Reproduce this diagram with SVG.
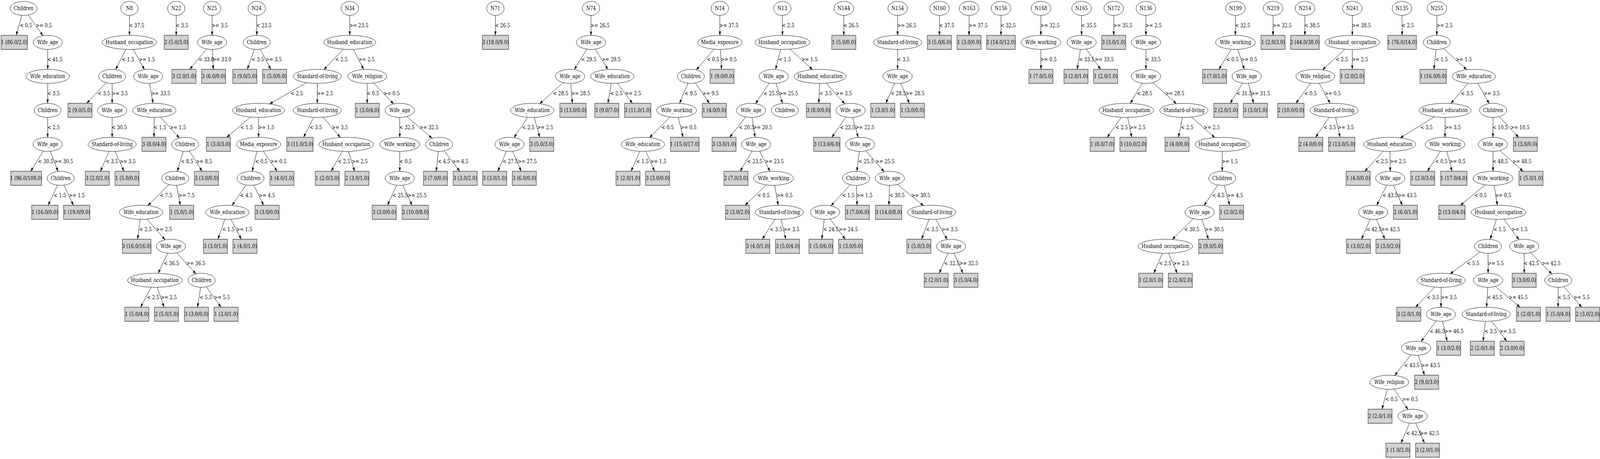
<svg xmlns="http://www.w3.org/2000/svg" width="4969" height="1175" viewBox="0 0 4969 1175" preserveAspectRatio="none" style="width:100vw;height:100vh;display:block">
<defs>
<marker id="ar" markerUnits="userSpaceOnUse" markerWidth="10" markerHeight="7" refX="10" refY="3.5" orient="auto"><path d="M0,0L10,3.5L0,7z" fill="#000"/></marker>
<style>
text{font-family:'DejaVu Serif',serif;font-size:14px;fill:#000;text-anchor:middle}
ellipse{fill:#fff;stroke:#000;stroke-width:1}
g>rect{fill:#d3d3d3;stroke:#3c3c3c;stroke-width:1.4;height:36px}
#connectors path{fill:none;stroke:#000;stroke-width:1;marker-end:url(#ar)}
#connectors text{text-anchor:start}
</style>
</defs>
<g id="connectors">
<path d="M73.3,21.5L50.3,90.5"/><text x="61.5" y="70">&lt; 0.5</text>
<path d="M73.3,21.5L133.5,91.5"/><text x="111" y="70">&gt;= 0.5</text>
<path d="M148.2,108.5L148.3,177.5"/><text x="147" y="157">&lt; 41.5</text>
<path d="M148.3,195.5L148,264.5"/><text x="147" y="244">&lt; 3.5</text>
<path d="M148,282.5L148,351.5"/><text x="147" y="331">&lt; 2.5</text>
<path d="M148,369.5L95.1,438.5"/><text x="118.3" y="418">&lt; 30.5</text>
<path d="M148,369.5L180.3,438.9"/><text x="168" y="418">&gt;= 30.5</text>
<path d="M188.5,456.5L149.5,525.5"/><text x="166.9" y="505">&lt; 1.5</text>
<path d="M188.5,456.5L228,525.5"/><text x="213.4" y="505">&gt;= 1.5</text>
<path d="M402,21.5L402,90.5"/><text x="400.7" y="70">&lt; 37.5</text>
<path d="M402,108.5L359,178.1"/><text x="378.3" y="157">&lt; 1.5</text>
<path d="M402,108.5L448.6,178.1"/><text x="431.1" y="157">&gt;= 1.5</text>
<path d="M348.3,195.5L269.2,264.5"/><text x="303.4" y="244">&lt; 3.5</text>
<path d="M348.3,195.5L348.3,264.5"/><text x="347" y="244">&gt;= 3.5</text>
<path d="M348.3,282.5L348.3,351.5"/><text x="347" y="331">&lt; 30.5</text>
<path d="M348.3,369.5L311.8,438.5"/><text x="328.1" y="418">&lt; 3.5</text>
<path d="M348.3,369.5L384.9,438.5"/><text x="371.4" y="418">&gt;= 3.5</text>
<path d="M460.2,195.5L475.4,264.5"/><text x="469.7" y="244">&gt;= 33.5</text>
<path d="M479.3,282.5L478.3,351.5"/><text x="477.5" y="331">&lt; 1.5</text>
<path d="M479.3,282.5L557.3,353.2"/><text x="527.3" y="331">&gt;= 1.5</text>
<path d="M575.3,369.5L550.6,438.7"/><text x="562" y="418">&lt; 8.5</text>
<path d="M575.3,369.5L627.6,438.5"/><text x="608.3" y="418">&gt;= 8.5</text>
<path d="M544.2,456.5L458.9,526.4"/><text x="496.3" y="505">&lt; 7.5</text>
<path d="M544.2,456.5L560.1,525.5"/><text x="554.2" y="505">&gt;= 7.5</text>
<path d="M438,543.5L427.3,612.5"/><text x="432.8" y="592">&lt; 2.5</text>
<path d="M438,543.5L513,613.9"/><text x="484.4" y="592">&gt;= 2.5</text>
<path d="M530.7,630.5L491.2,699.6"/><text x="508.9" y="679">&lt; 36.5</text>
<path d="M530.7,630.5L608.5,701.2"/><text x="578.5" y="679">&gt;= 36.5</text>
<path d="M481,717.5L436.6,786.5"/><text x="456.2" y="766">&lt; 2.5</text>
<path d="M481,717.5L509.6,786.5"/><text x="499" y="766">&gt;= 2.5</text>
<path d="M626.4,717.5L613.4,786.5"/><text x="619.9" y="766">&lt; 5.5</text>
<path d="M626.4,717.5L686.4,786.5"/><text x="664.2" y="766">&gt;= 5.5</text>
<path d="M547.3,21.5L547.3,90.5"/><text x="546" y="70">&lt; 3.5</text>
<path d="M658.7,21.5L658.7,90.5"/><text x="657.4" y="70">&gt;= 3.5</text>
<path d="M658.7,108.5L589.4,177.5"/><text x="617" y="157">&lt; 33.0</text>
<path d="M658.7,108.5L662.4,177.5"/><text x="659.5" y="157">&gt;= 33.0</text>
<path d="M797.3,21.5L797.5,90.5"/><text x="796" y="70">&lt; 23.5</text>
<path d="M797.5,108.5L768,177.5"/><text x="781.4" y="157">&lt; 3.5</text>
<path d="M797.5,108.5L841.1,177.5"/><text x="825" y="157">&gt;= 3.5</text>
<path d="M1086.3,21.5L1086.2,90.5"/><text x="1085" y="70">&gt;= 23.5</text>
<path d="M1086.2,108.5L1005.6,178.2"/><text x="1040.9" y="157">&lt; 2.5</text>
<path d="M1086.2,108.5L1129.5,177.8"/><text x="1113.4" y="157">&gt;= 2.5</text>
<path d="M985.5,195.5L837.2,266.2"/><text x="902.5" y="244">&lt; 2.5</text>
<path d="M985.5,195.5L985.5,264.5"/><text x="984.2" y="244">&gt;= 2.5</text>
<path d="M803,282.5L704.1,351.5"/><text x="746.6" y="331">&lt; 1.5</text>
<path d="M803,282.5L803,351.5"/><text x="801.7" y="331">&gt;= 1.5</text>
<path d="M803,369.5L783.1,438.6"/><text x="792.5" y="418">&lt; 0.5</text>
<path d="M803,369.5L860.7,438.5"/><text x="839.4" y="418">&gt;= 0.5</text>
<path d="M778,456.5L720.5,525.9"/><text x="745.9" y="505">&lt; 4.5</text>
<path d="M778,456.5L818.8,525.5"/><text x="803.8" y="505">&gt;= 4.5</text>
<path d="M706,543.5L676.7,612.5"/><text x="690" y="592">&lt; 1.5</text>
<path d="M706,543.5L749.5,612.5"/><text x="733.4" y="592">&gt;= 1.5</text>
<path d="M985.5,282.5L942.7,351.5"/><text x="961.7" y="331">&lt; 3.5</text>
<path d="M985.5,282.5L1057.1,351.9"/><text x="1030.4" y="331">&gt;= 3.5</text>
<path d="M1075.3,369.5L1028.5,438.5"/><text x="1049.2" y="418">&lt; 2.5</text>
<path d="M1075.3,369.5L1101.6,438.5"/><text x="1091.9" y="418">&gt;= 2.5</text>
<path d="M1140.5,195.5L1140.5,264.5"/><text x="1139.2" y="244">&lt; 0.5</text>
<path d="M1140.5,195.5L1222.5,266.1"/><text x="1191" y="244">&gt;= 0.5</text>
<path d="M1241.5,282.5L1241.5,351.5"/><text x="1240.2" y="331">&lt; 32.5</text>
<path d="M1241.5,282.5L1342,354.1"/><text x="1302.6" y="331">&gt;= 32.5</text>
<path d="M1241.5,369.5L1241.5,438.5"/><text x="1240.2" y="418">&lt; 0.5</text>
<path d="M1241.5,456.5L1203.3,525.5"/><text x="1219" y="505">&lt; 25.5</text>
<path d="M1241.5,456.5L1279.7,525.5"/><text x="1265.6" y="505">&gt;= 25.5</text>
<path d="M1363.7,369.5L1354.8,438.5"/><text x="1359.6" y="418">&lt; 4.5</text>
<path d="M1363.7,369.5L1427.9,438.5"/><text x="1404.2" y="418">&gt;= 4.5</text>
<path d="M1538.5,21.5L1538.7,90.5"/><text x="1537.3" y="70">&lt; 26.5</text>
<path d="M1835.5,21.5L1835.5,90.5"/><text x="1834.2" y="70">&gt;= 26.5</text>
<path d="M1835.5,108.5L1783.4,178.2"/><text x="1805" y="157">&lt; 29.5</text>
<path d="M1835.5,108.5L1888.2,177.9"/><text x="1868.5" y="157">&gt;= 29.5</text>
<path d="M1770.5,195.5L1675.9,265.6"/><text x="1717.5" y="244">&lt; 28.5</text>
<path d="M1770.5,195.5L1777.6,264.5"/><text x="1774" y="244">&gt;= 28.5</text>
<path d="M1653,282.5L1596.4,352.4"/><text x="1621.6" y="331">&lt; 2.5</text>
<path d="M1653,282.5L1676.4,351.5"/><text x="1667.7" y="331">&gt;= 2.5</text>
<path d="M1582.5,369.5L1545.9,438.5"/><text x="1561" y="418">&lt; 27.5</text>
<path d="M1582.5,369.5L1618.8,438.5"/><text x="1608" y="418">&gt;= 27.5</text>
<path d="M1901.6,195.5L1888,264.5"/><text x="1894.7" y="244">&lt; 2.5</text>
<path d="M1901.6,195.5L1964.3,264.5"/><text x="1941.1" y="244">&gt;= 2.5</text>
<path d="M2235.5,21.5L2235.7,90.5"/><text x="2234.3" y="70">&gt;= 37.5</text>
<path d="M2235.7,108.5L2162.6,179.1"/><text x="2195.2" y="157">&lt; 0.5</text>
<path d="M2235.7,108.5L2241,177.5"/><text x="2238" y="157">&gt;= 0.5</text>
<path d="M2145.5,195.5L2110.3,264.7"/><text x="2126.2" y="244">&lt; 9.5</text>
<path d="M2145.5,195.5L2203.2,264.5"/><text x="2181.9" y="244">&gt;= 9.5</text>
<path d="M2101.3,282.5L2017.1,352.4"/><text x="2054" y="331">&lt; 0.5</text>
<path d="M2101.3,282.5L2121.4,351.5"/><text x="2113" y="331">&gt;= 0.5</text>
<path d="M1996.4,369.5L1959.9,438.5"/><text x="1976.2" y="418">&lt; 1.5</text>
<path d="M1996.4,369.5L2032.9,438.5"/><text x="2019.4" y="418">&gt;= 1.5</text>
<path d="M2429.6,21.5L2430,90.5"/><text x="2428.5" y="70">&lt; 2.5</text>
<path d="M2430,108.5L2408.5,177.6"/><text x="2418" y="157">&lt; 1.5</text>
<path d="M2430,108.5L2523.6,178.3"/><text x="2489" y="157">&gt;= 1.5</text>
<path d="M2403,195.5L2346.2,265.4"/><text x="2371.5" y="244">&lt; 25.5</text>
<path d="M2403,195.5L2430.5,264.8"/><text x="2419.5" y="244">&gt;= 25.5</text>
<path d="M2332.3,282.5L2266,351.5"/><text x="2294.8" y="331">&lt; 20.5</text>
<path d="M2332.3,282.5L2344.9,351.6"/><text x="2339" y="331">&gt;= 20.5</text>
<path d="M2348.2,369.5L2298.6,438.5"/><text x="2320.5" y="418">&lt; 23.5</text>
<path d="M2348.2,369.5L2391.3,438.8"/><text x="2375.3" y="418">&gt;= 23.5</text>
<path d="M2402.3,456.5L2313.7,525.5"/><text x="2352" y="505">&lt; 0.5</text>
<path d="M2402.3,456.5L2416.8,525.5"/><text x="2411" y="505">&gt;= 0.5</text>
<path d="M2420.6,543.5L2367.3,612.5"/><text x="2390.7" y="592">&lt; 3.5</text>
<path d="M2420.6,543.5L2440.5,612.5"/><text x="2432.5" y="592">&gt;= 3.5</text>
<path d="M2546.7,195.5L2542.7,264.5"/><text x="2545" y="244">&lt; 3.5</text>
<path d="M2546.7,195.5L2623.7,266"/><text x="2595.5" y="244">&gt;= 3.5</text>
<path d="M2641.8,282.5L2583.3,351.5"/><text x="2608.5" y="331">&lt; 22.5</text>
<path d="M2641.8,282.5L2665.3,351.7"/><text x="2656.3" y="331">&gt;= 22.5</text>
<path d="M2671.3,369.5L2661.2,438.5"/><text x="2666" y="418">&lt; 25.5</text>
<path d="M2671.3,369.5L2745.9,439.9"/><text x="2719" y="418">&gt;= 25.5</text>
<path d="M2658.6,456.5L2580.6,527"/><text x="2615.4" y="505">&lt; 1.5</text>
<path d="M2658.6,456.5L2661.8,525.5"/><text x="2659.6" y="505">&gt;= 1.5</text>
<path d="M2562.4,543.5L2552.3,612.5"/><text x="2557" y="592">&lt; 24.5</text>
<path d="M2562.4,543.5L2625.2,612.5"/><text x="2605" y="592">&gt;= 24.5</text>
<path d="M2763.5,456.5L2760.5,525.5"/><text x="2762.3" y="505">&lt; 30.5</text>
<path d="M2763.5,456.5L2868.3,526.6"/><text x="2830" y="505">&gt;= 30.5</text>
<path d="M2893.6,543.5L2862,612.5"/><text x="2876" y="592">&lt; 3.5</text>
<path d="M2893.6,543.5L2941.7,613.1"/><text x="2924.3" y="592">&gt;= 3.5</text>
<path d="M2953.7,630.5L2917,699.5"/><text x="2932.5" y="679">&lt; 32.5</text>
<path d="M2953.7,630.5L2990.3,699.5"/><text x="2979" y="679">&gt;= 32.5</text>
<path d="M2620.6,21.5L2620.6,90.5"/><text x="2619.3" y="70">&lt; 26.5</text>
<path d="M2787.8,21.5L2787.6,90.5"/><text x="2786.4" y="70">&gt;= 26.5</text>
<path d="M2787.6,108.5L2787.6,177.5"/><text x="2786.3" y="157">&lt; 3.5</text>
<path d="M2787.6,195.5L2751.1,264.5"/><text x="2766" y="244">&lt; 28.5</text>
<path d="M2787.6,195.5L2824.1,264.5"/><text x="2812" y="244">&gt;= 28.5</text>
<path d="M2918,21.5L2917.5,90.5"/><text x="2916.5" y="70">&lt; 37.5</text>
<path d="M3009.7,21.5L3009.5,90.5"/><text x="3008.3" y="70">&gt;= 37.5</text>
<path d="M3108.7,21.5L3108.7,90.5"/><text x="3107.4" y="70">&lt; 32.5</text>
<path d="M3232.8,21.5L3232.5,90.5"/><text x="3231.3" y="70">&gt;= 32.5</text>
<path d="M3232.5,108.5L3232.8,177.5"/><text x="3231.3" y="157">&gt;= 0.5</text>
<path d="M3358.9,21.5L3359,90.5"/><text x="3357.7" y="70">&lt; 35.5</text>
<path d="M3359,108.5L3345.3,177.5"/><text x="3351" y="157">&lt; 33.5</text>
<path d="M3359,108.5L3418.2,177.5"/><text x="3400" y="157">&gt;= 33.5</text>
<path d="M3458.9,21.5L3458.7,90.5"/><text x="3457.5" y="70">&gt;= 35.5</text>
<path d="M3558.8,21.5L3558.9,90.5"/><text x="3557.6" y="70">&gt;= 2.5</text>
<path d="M3558.9,108.5L3558.9,177.5"/><text x="3557.6" y="157">&lt; 33.5</text>
<path d="M3558.9,195.5L3510.4,264.7"/><text x="3531" y="244">&lt; 28.5</text>
<path d="M3558.9,195.5L3653.6,265.4"/><text x="3619" y="244">&gt;= 28.5</text>
<path d="M3497.9,282.5L3438.5,351.5"/><text x="3464.4" y="331">&lt; 2.5</text>
<path d="M3497.9,282.5L3514.6,351.5"/><text x="3507.5" y="331">&gt;= 2.5</text>
<path d="M3676.8,282.5L3659.9,351.5"/><text x="3667.5" y="331">&lt; 2.5</text>
<path d="M3676.8,282.5L3772.6,352.2"/><text x="3738" y="331">&gt;= 2.5</text>
<path d="M3796.3,369.5L3795.7,438.5"/><text x="3794" y="418">&gt;= 1.5</text>
<path d="M3795.7,456.5L3739.3,526.4"/><text x="3764.4" y="505">&lt; 4.5</text>
<path d="M3795.7,456.5L3818.8,525.5"/><text x="3810.2" y="505">&gt;= 4.5</text>
<path d="M3725.5,543.5L3640.6,613.1"/><text x="3677.5" y="592">&lt; 30.5</text>
<path d="M3725.5,543.5L3752.9,612.5"/><text x="3742" y="592">&gt;= 30.5</text>
<path d="M3619.3,630.5L3583.1,699.5"/><text x="3599.3" y="679">&lt; 2.5</text>
<path d="M3619.3,630.5L3656.1,699.5"/><text x="3642.5" y="679">&gt;= 2.5</text>
<path d="M3836.9,21.5L3836.7,90.5"/><text x="3835.5" y="70">&lt; 32.5</text>
<path d="M3836.7,108.5L3785.3,177.5"/><text x="3807.9" y="157">&lt; 0.5</text>
<path d="M3836.7,108.5L3864.6,177.7"/><text x="3854.2" y="157">&gt;= 0.5</text>
<path d="M3871.7,195.5L3820.4,264.5"/><text x="3840" y="244">&lt; 31.5</text>
<path d="M3871.7,195.5L3893.1,264.5"/><text x="3885.2" y="244">&gt;= 31.5</text>
<path d="M3953.8,21.5L3953.6,90.5"/><text x="3952.4" y="70">&gt;= 32.5</text>
<path d="M4052.7,21.5L4052.5,90.5"/><text x="4051.3" y="70">&lt; 38.5</text>
<path d="M4199.8,21.5L4199.8,90.5"/><text x="4198.5" y="70">&gt;= 38.5</text>
<path d="M4199.8,108.5L4107.1,178.8"/><text x="4148" y="157">&lt; 2.5</text>
<path d="M4199.8,108.5L4199.5,177.5"/><text x="4198.3" y="157">&gt;= 2.5</text>
<path d="M4085,195.5L4024.7,264.5"/><text x="4051" y="244">&lt; 0.5</text>
<path d="M4085,195.5L4131.1,264.7"/><text x="4113.8" y="244">&gt;= 0.5</text>
<path d="M4142.9,282.5L4085.7,351.5"/><text x="4110.8" y="331">&lt; 3.5</text>
<path d="M4142.9,282.5L4162,351.5"/><text x="4154.5" y="331">&gt;= 3.5</text>
<path d="M4354,21.5L4354.4,90.5"/><text x="4353" y="70">&lt; 2.5</text>
<path d="M4462.5,21.5L4462.3,90.5"/><text x="4461" y="70">&gt;= 2.5</text>
<path d="M4462.3,108.5L4453.2,177.5"/><text x="4458" y="157">&lt; 1.5</text>
<path d="M4462.3,108.5L4554.9,178.5"/><text x="4521" y="157">&gt;= 1.5</text>
<path d="M4577.3,195.5L4505.8,265"/><text x="4537.1" y="244">&lt; 3.5</text>
<path d="M4577.3,195.5L4625.1,265.2"/><text x="4607.5" y="244">&gt;= 3.5</text>
<path d="M4487.7,282.5L4348.5,353"/><text x="4411" y="331">&lt; 3.5</text>
<path d="M4487.7,282.5L4487.7,351.5"/><text x="4486.4" y="331">&gt;= 3.5</text>
<path d="M4316,369.5L4238.2,438.5"/><text x="4272" y="418">&lt; 2.5</text>
<path d="M4316,369.5L4317.7,438.5"/><text x="4316.4" y="418">&gt;= 2.5</text>
<path d="M4317.7,456.5L4275.4,526"/><text x="4293.5" y="505">&lt; 43.5</text>
<path d="M4317.7,456.5L4355.1,525.5"/><text x="4340.5" y="505">&gt;= 43.5</text>
<path d="M4264.8,543.5L4228.3,612.5"/><text x="4243.5" y="592">&lt; 42.5</text>
<path d="M4264.8,543.5L4301,612.5"/><text x="4289" y="592">&gt;= 42.5</text>
<path d="M4487.7,369.5L4432.7,438.5"/><text x="4457" y="418">&lt; 0.5</text>
<path d="M4487.7,369.5L4509.4,438.5"/><text x="4501" y="418">&gt;= 0.5</text>
<path d="M4636.9,282.5L4636.5,351.5"/><text x="4635.4" y="331">&lt; 10.5</text>
<path d="M4636.9,282.5L4716.5,351.5"/><text x="4691" y="331">&gt;= 10.5</text>
<path d="M4636.5,369.5L4636.7,438.5"/><text x="4635.4" y="418">&lt; 48.5</text>
<path d="M4636.5,369.5L4730.2,438.5"/><text x="4697" y="418">&gt;= 48.5</text>
<path d="M4636.7,456.5L4535.6,525.5"/><text x="4579" y="505">&lt; 0.5</text>
<path d="M4636.7,456.5L4650.3,525.5"/><text x="4643" y="505">&gt;= 0.5</text>
<path d="M4653.8,543.5L4627.9,612.7"/><text x="4638" y="592">&lt; 1.5</text>
<path d="M4653.8,543.5L4718,613.6"/><text x="4694" y="592">&gt;= 1.5</text>
<path d="M4621.2,630.5L4503.7,700.8"/><text x="4556" y="679">&lt; 5.5</text>
<path d="M4621.2,630.5L4621.5,699.5"/><text x="4620" y="679">&gt;= 5.5</text>
<path d="M4733.5,630.5L4733.5,699.5"/><text x="4732.2" y="679">&lt; 42.5</text>
<path d="M4733.5,630.5L4819.8,701.5"/><text x="4787.5" y="679">&gt;= 42.5</text>
<path d="M4475.8,717.5L4396.1,786.5"/><text x="4431" y="766">&lt; 3.5</text>
<path d="M4475.8,717.5L4475.2,786.5"/><text x="4474.2" y="766">&gt;= 3.5</text>
<path d="M4621.5,717.5L4616.8,786.5"/><text x="4618.5" y="766">&lt; 45.5</text>
<path d="M4621.5,717.5L4720.8,786.5"/><text x="4685.5" y="766">&gt;= 45.5</text>
<path d="M4839.2,717.5L4838.8,786.5"/><text x="4837.7" y="766">&lt; 5.5</text>
<path d="M4839.2,717.5L4912.4,786.5"/><text x="4887" y="766">&gt;= 5.5</text>
<path d="M4615.6,804.5L4606,873.5"/><text x="4610.5" y="853">&lt; 3.5</text>
<path d="M4615.6,804.5L4679.5,873.5"/><text x="4656.5" y="853">&gt;= 3.5</text>
<path d="M4475.2,804.5L4413.1,874.5"/><text x="4440" y="853">&lt; 46.5</text>
<path d="M4475.2,804.5L4494.1,873.5"/><text x="4486" y="853">&gt;= 46.5</text>
<path d="M4398,891.5L4331.2,961.2"/><text x="4361" y="940">&lt; 43.5</text>
<path d="M4398,891.5L4423.9,960.5"/><text x="4413.5" y="940">&gt;= 43.5</text>
<path d="M4314.6,978.5L4291.9,1047.5"/><text x="4302.4" y="1027">&lt; 0.5</text>
<path d="M4314.6,978.5L4372.8,1048.4"/><text x="4354" y="1027">&gt;= 0.5</text>
<path d="M4387,1065.5L4350.9,1134.5"/><text x="4367" y="1114">&lt; 42.5</text>
<path d="M4387,1065.5L4423.9,1134.5"/><text x="4410" y="1114">&gt;= 42.5</text>
</g>
<g id="A0"><ellipse cx="73.3" cy="21.5" rx="42" ry="18"/><text x="73.3" y="26.5">Children</text></g>
<g id="A1"><rect x="3.45" y="90.5" width="81.7"/><text x="44.3" y="113.5">1 (86.0/2.0)</text></g>
<g id="A2"><ellipse cx="148.2" cy="108.5" rx="45.5" ry="18"/><text x="148.2" y="113.5">Wife_age</text></g>
<g id="A3"><ellipse cx="148.3" cy="195.5" rx="67.5" ry="18"/><text x="148.3" y="200.5">Wife_education</text></g>
<g id="A4"><ellipse cx="148" cy="282.5" rx="42" ry="18"/><text x="148" y="287.5">Children</text></g>
<g id="A5"><ellipse cx="148" cy="369.5" rx="45.5" ry="18"/><text x="148" y="374.5">Wife_age</text></g>
<g id="A6"><rect x="33.45" y="438.5" width="95.7"/><text x="81.3" y="461.5">1 (96.0/108.0)</text></g>
<g id="A7"><ellipse cx="188.5" cy="456.5" rx="42" ry="18"/><text x="188.5" y="461.5">Children</text></g>
<g id="A8"><rect x="98.45" y="525.5" width="81.7"/><text x="139.3" y="548.5">1 (16.0/0.0)</text></g>
<g id="A9"><rect x="197.45" y="525.5" width="81.7"/><text x="238.3" y="548.5">1 (19.0/9.0)</text></g>
<g id="B0"><ellipse cx="402" cy="21.5" rx="27" ry="18"/><text x="402" y="26.5">N8</text></g>
<g id="B1"><ellipse cx="402" cy="108.5" rx="85" ry="18"/><text x="402" y="113.5">Husband_occupation</text></g>
<g id="B2"><ellipse cx="348.3" cy="195.5" rx="42" ry="18"/><text x="348.3" y="200.5">Children</text></g>
<g id="B3"><ellipse cx="460.2" cy="195.5" rx="45.5" ry="18"/><text x="460.2" y="200.5">Wife_age</text></g>
<g id="B4"><rect x="211.15" y="264.5" width="74.7"/><text x="248.5" y="287.5">2 (9.0/5.0)</text></g>
<g id="B5"><ellipse cx="348.3" cy="282.5" rx="45.5" ry="18"/><text x="348.3" y="287.5">Wife_age</text></g>
<g id="B6"><ellipse cx="348.3" cy="369.5" rx="75" ry="18"/><text x="348.3" y="374.5">Standard-of-living</text></g>
<g id="B7"><rect x="264.95" y="438.5" width="74.7"/><text x="302.3" y="461.5">3 (2.0/2.0)</text></g>
<g id="B8"><rect x="357.15" y="438.5" width="74.7"/><text x="394.5" y="461.5">1 (5.0/0.0)</text></g>
<g id="B9"><ellipse cx="479.3" cy="282.5" rx="67.5" ry="18"/><text x="479.3" y="287.5">Wife_education</text></g>
<g id="B10"><rect x="440.95" y="351.5" width="74.7"/><text x="478.3" y="374.5">3 (8.0/4.0)</text></g>
<g id="B11"><ellipse cx="575.3" cy="369.5" rx="42" ry="18"/><text x="575.3" y="374.5">Children</text></g>
<g id="B12"><ellipse cx="544.2" cy="456.5" rx="42" ry="18"/><text x="544.2" y="461.5">Children</text></g>
<g id="B13"><rect x="603.95" y="438.5" width="74.7"/><text x="641.3" y="461.5">3 (3.0/0.0)</text></g>
<g id="B14"><ellipse cx="438" cy="543.5" rx="67.5" ry="18"/><text x="438" y="548.5">Wife_education</text></g>
<g id="B15"><rect x="526.95" y="525.5" width="74.7"/><text x="564.3" y="548.5">1 (5.0/1.0)</text></g>
<g id="B16"><rect x="380.15" y="612.5" width="88.7"/><text x="424.5" y="635.5">3 (16.0/16.0)</text></g>
<g id="B17"><ellipse cx="530.7" cy="630.5" rx="45.5" ry="18"/><text x="530.7" y="635.5">Wife_age</text></g>
<g id="B18"><ellipse cx="481" cy="717.5" rx="85" ry="18"/><text x="481" y="722.5">Husband_occupation</text></g>
<g id="B19"><ellipse cx="626.4" cy="717.5" rx="42" ry="18"/><text x="626.4" y="722.5">Children</text></g>
<g id="B20"><rect x="387.65" y="786.5" width="74.7"/><text x="425" y="809.5">1 (5.0/4.0)</text></g>
<g id="B21"><rect x="479.65" y="786.5" width="74.7"/><text x="517" y="809.5">2 (5.0/1.0)</text></g>
<g id="B22"><rect x="572.65" y="786.5" width="74.7"/><text x="610" y="809.5">3 (3.0/0.0)</text></g>
<g id="B23"><rect x="664.65" y="786.5" width="74.7"/><text x="702" y="809.5">1 (3.0/1.0)</text></g>
<g id="C0"><ellipse cx="547.3" cy="21.5" rx="27" ry="18"/><text x="547.3" y="26.5">N22</text></g>
<g id="C1"><rect x="509.95" y="90.5" width="74.7"/><text x="547.3" y="113.5">2 (5.0/3.0)</text></g>
<g id="D0"><ellipse cx="658.7" cy="21.5" rx="27" ry="18"/><text x="658.7" y="26.5">N25</text></g>
<g id="D1"><ellipse cx="658.7" cy="108.5" rx="45.5" ry="18"/><text x="658.7" y="113.5">Wife_age</text></g>
<g id="D2"><rect x="533.95" y="177.5" width="74.7"/><text x="571.3" y="200.5">3 (2.0/1.0)</text></g>
<g id="D3"><rect x="625.95" y="177.5" width="74.7"/><text x="663.3" y="200.5">3 (6.0/0.0)</text></g>
<g id="E0"><ellipse cx="797.3" cy="21.5" rx="27" ry="18"/><text x="797.3" y="26.5">N24</text></g>
<g id="E1"><ellipse cx="797.5" cy="108.5" rx="42" ry="18"/><text x="797.5" y="113.5">Children</text></g>
<g id="E2"><rect x="722.95" y="177.5" width="74.7"/><text x="760.3" y="200.5">3 (9.0/5.0)</text></g>
<g id="E3"><rect x="815.15" y="177.5" width="74.7"/><text x="852.5" y="200.5">1 (5.0/0.0)</text></g>
<g id="F0"><ellipse cx="1086.3" cy="21.5" rx="27" ry="18"/><text x="1086.3" y="26.5">N34</text></g>
<g id="F1"><ellipse cx="1086.2" cy="108.5" rx="81" ry="18"/><text x="1086.2" y="113.5">Husband_education</text></g>
<g id="F2"><ellipse cx="985.5" cy="195.5" rx="75" ry="18"/><text x="985.5" y="200.5">Standard-of-living</text></g>
<g id="F3"><ellipse cx="1140.5" cy="195.5" rx="60.5" ry="18"/><text x="1140.5" y="200.5">Wife_religion</text></g>
<g id="F4"><ellipse cx="803" cy="282.5" rx="81" ry="18"/><text x="803" y="287.5">Husband_education</text></g>
<g id="F5"><ellipse cx="985.5" cy="282.5" rx="75" ry="18"/><text x="985.5" y="287.5">Standard-of-living</text></g>
<g id="F6"><rect x="640.95" y="351.5" width="74.7"/><text x="678.3" y="374.5">1 (3.0/3.0)</text></g>
<g id="F7"><ellipse cx="803" cy="369.5" rx="69" ry="18"/><text x="803" y="374.5">Media_exposure</text></g>
<g id="F8"><ellipse cx="778" cy="456.5" rx="42" ry="18"/><text x="778" y="461.5">Children</text></g>
<g id="F9"><rect x="838.35" y="438.5" width="74.7"/><text x="875.7" y="461.5">1 (4.0/1.0)</text></g>
<g id="F10"><ellipse cx="706" cy="543.5" rx="67.5" ry="18"/><text x="706" y="548.5">Wife_education</text></g>
<g id="F11"><rect x="792.15" y="525.5" width="74.7"/><text x="829.5" y="548.5">3 (3.0/0.0)</text></g>
<g id="F12"><rect x="631.65" y="612.5" width="74.7"/><text x="669" y="635.5">3 (3.0/1.0)</text></g>
<g id="F13"><rect x="723.45" y="612.5" width="74.7"/><text x="760.8" y="635.5">1 (4.0/1.0)</text></g>
<g id="F14"><rect x="890.65" y="351.5" width="81.7"/><text x="931.5" y="374.5">3 (11.0/3.0)</text></g>
<g id="F15"><ellipse cx="1075.3" cy="369.5" rx="85" ry="18"/><text x="1075.3" y="374.5">Husband_occupation</text></g>
<g id="F16"><rect x="978.95" y="438.5" width="74.7"/><text x="1016.3" y="461.5">1 (2.0/3.0)</text></g>
<g id="F17"><rect x="1071.15" y="438.5" width="74.7"/><text x="1108.5" y="461.5">2 (3.0/1.0)</text></g>
<g id="F18"><rect x="1103.15" y="264.5" width="74.7"/><text x="1140.5" y="287.5">1 (3.0/4.0)</text></g>
<g id="F19"><ellipse cx="1241.5" cy="282.5" rx="45.5" ry="18"/><text x="1241.5" y="287.5">Wife_age</text></g>
<g id="F20"><ellipse cx="1241.5" cy="369.5" rx="62" ry="18"/><text x="1241.5" y="374.5">Wife_working</text></g>
<g id="F21"><ellipse cx="1363.7" cy="369.5" rx="42" ry="18"/><text x="1363.7" y="374.5">Children</text></g>
<g id="F22"><ellipse cx="1241.5" cy="456.5" rx="45.5" ry="18"/><text x="1241.5" y="461.5">Wife_age</text></g>
<g id="F23"><rect x="1155.95" y="525.5" width="74.7"/><text x="1193.3" y="548.5">3 (3.0/0.0)</text></g>
<g id="F24"><rect x="1248.85" y="525.5" width="81.7"/><text x="1289.7" y="548.5">3 (10.0/8.0)</text></g>
<g id="F25"><rect x="1315.15" y="438.5" width="74.7"/><text x="1352.5" y="461.5">3 (7.0/0.0)</text></g>
<g id="F26"><rect x="1407.35" y="438.5" width="74.7"/><text x="1444.7" y="461.5">3 (3.0/2.0)</text></g>
<g id="G0"><ellipse cx="1538.5" cy="21.5" rx="27" ry="18"/><text x="1538.5" y="26.5">N71</text></g>
<g id="G1"><rect x="1497.85" y="90.5" width="81.7"/><text x="1538.7" y="113.5">3 (18.0/9.0)</text></g>
<g id="H0"><ellipse cx="1835.5" cy="21.5" rx="27" ry="18"/><text x="1835.5" y="26.5">N74</text></g>
<g id="H1"><ellipse cx="1835.5" cy="108.5" rx="45.5" ry="18"/><text x="1835.5" y="113.5">Wife_age</text></g>
<g id="H2"><ellipse cx="1770.5" cy="195.5" rx="45.5" ry="18"/><text x="1770.5" y="200.5">Wife_age</text></g>
<g id="H3"><ellipse cx="1901.6" cy="195.5" rx="67.5" ry="18"/><text x="1901.6" y="200.5">Wife_education</text></g>
<g id="H4"><ellipse cx="1653" cy="282.5" rx="67.5" ry="18"/><text x="1653" y="287.5">Wife_education</text></g>
<g id="H5"><rect x="1738.65" y="264.5" width="81.7"/><text x="1779.5" y="287.5">3 (13.0/0.0)</text></g>
<g id="H6"><ellipse cx="1582.5" cy="369.5" rx="45.5" ry="18"/><text x="1582.5" y="374.5">Wife_age</text></g>
<g id="H7"><rect x="1645.15" y="351.5" width="74.7"/><text x="1682.5" y="374.5">3 (5.0/3.0)</text></g>
<g id="H8"><rect x="1498.95" y="438.5" width="74.7"/><text x="1536.3" y="461.5">3 (3.0/1.0)</text></g>
<g id="H9"><rect x="1590.95" y="438.5" width="74.7"/><text x="1628.3" y="461.5">3 (6.0/0.0)</text></g>
<g id="H10"><rect x="1847.05" y="264.5" width="74.7"/><text x="1884.4" y="287.5">3 (9.0/7.0)</text></g>
<g id="H11"><rect x="1939.75" y="264.5" width="81.7"/><text x="1980.6" y="287.5">3 (11.0/1.0)</text></g>
<g id="I0"><ellipse cx="2235.5" cy="21.5" rx="27" ry="18"/><text x="2235.5" y="26.5">N14</text></g>
<g id="I1"><ellipse cx="2235.7" cy="108.5" rx="69" ry="18"/><text x="2235.7" y="113.5">Media_exposure</text></g>
<g id="I2"><ellipse cx="2145.5" cy="195.5" rx="42" ry="18"/><text x="2145.5" y="200.5">Children</text></g>
<g id="I3"><rect x="2205.05" y="177.5" width="74.7"/><text x="2242.4" y="200.5">1 (9.0/0.0)</text></g>
<g id="I4"><ellipse cx="2101.3" cy="282.5" rx="62" ry="18"/><text x="2101.3" y="287.5">Wife_working</text></g>
<g id="I5"><rect x="2180.95" y="264.5" width="74.7"/><text x="2218.3" y="287.5">1 (4.0/0.0)</text></g>
<g id="I6"><ellipse cx="1996.4" cy="369.5" rx="67.5" ry="18"/><text x="1996.4" y="374.5">Wife_education</text></g>
<g id="I7"><rect x="2082.25" y="351.5" width="88.7"/><text x="2126.6" y="374.5">1 (15.0/17.0)</text></g>
<g id="I8"><rect x="1913.05" y="438.5" width="74.7"/><text x="1950.4" y="461.5">1 (2.0/1.0)</text></g>
<g id="I9"><rect x="2005.05" y="438.5" width="74.7"/><text x="2042.4" y="461.5">3 (3.0/0.0)</text></g>
<g id="J0"><ellipse cx="2429.6" cy="21.5" rx="27" ry="18"/><text x="2429.6" y="26.5">N13</text></g>
<g id="J1"><ellipse cx="2430" cy="108.5" rx="85" ry="18"/><text x="2430" y="113.5">Husband_occupation</text></g>
<g id="J2"><ellipse cx="2403" cy="195.5" rx="45.5" ry="18"/><text x="2403" y="200.5">Wife_age</text></g>
<g id="J3"><ellipse cx="2546.7" cy="195.5" rx="81" ry="18"/><text x="2546.7" y="200.5">Husband_education</text></g>
<g id="J4"><ellipse cx="2332.3" cy="282.5" rx="45.5" ry="18"/><text x="2332.3" y="287.5">Wife_age</text></g>
<g id="J5"><ellipse cx="2437.6" cy="282.5" rx="42" ry="18"/><text x="2437.6" y="287.5">Children</text></g>
<g id="J6"><rect x="2211.35" y="351.5" width="74.7"/><text x="2248.7" y="374.5">3 (3.0/1.0)</text></g>
<g id="J7"><ellipse cx="2348.2" cy="369.5" rx="45.5" ry="18"/><text x="2348.2" y="374.5">Wife_age</text></g>
<g id="J8"><rect x="2248.35" y="438.5" width="74.7"/><text x="2285.7" y="461.5">2 (7.0/3.0)</text></g>
<g id="J9"><ellipse cx="2402.3" cy="456.5" rx="62" ry="18"/><text x="2402.3" y="461.5">Wife_working</text></g>
<g id="J10"><rect x="2253.25" y="525.5" width="74.7"/><text x="2290.6" y="548.5">2 (3.0/2.0)</text></g>
<g id="J11"><ellipse cx="2420.6" cy="543.5" rx="75" ry="18"/><text x="2420.6" y="548.5">Standard-of-living</text></g>
<g id="J12"><rect x="2316.05" y="612.5" width="74.7"/><text x="2353.4" y="635.5">3 (4.0/1.0)</text></g>
<g id="J13"><rect x="2408.35" y="612.5" width="74.7"/><text x="2445.7" y="635.5">3 (5.0/4.0)</text></g>
<g id="J14"><rect x="2504.25" y="264.5" width="74.7"/><text x="2541.6" y="287.5">3 (8.0/0.0)</text></g>
<g id="J15"><ellipse cx="2641.8" cy="282.5" rx="45.5" ry="18"/><text x="2641.8" y="287.5">Wife_age</text></g>
<g id="J16"><rect x="2527.15" y="351.5" width="81.7"/><text x="2568" y="374.5">3 (13.0/6.0)</text></g>
<g id="J17"><ellipse cx="2671.3" cy="369.5" rx="45.5" ry="18"/><text x="2671.3" y="374.5">Wife_age</text></g>
<g id="J18"><ellipse cx="2658.6" cy="456.5" rx="42" ry="18"/><text x="2658.6" y="461.5">Children</text></g>
<g id="J19"><ellipse cx="2763.5" cy="456.5" rx="45.5" ry="18"/><text x="2763.5" y="461.5">Wife_age</text></g>
<g id="J20"><ellipse cx="2562.4" cy="543.5" rx="45.5" ry="18"/><text x="2562.4" y="548.5">Wife_age</text></g>
<g id="J21"><rect x="2625.25" y="525.5" width="74.7"/><text x="2662.6" y="548.5">3 (7.0/6.0)</text></g>
<g id="J22"><rect x="2512.25" y="612.5" width="74.7"/><text x="2549.6" y="635.5">1 (5.0/6.0)</text></g>
<g id="J23"><rect x="2604.25" y="612.5" width="74.7"/><text x="2641.6" y="635.5">1 (3.0/0.0)</text></g>
<g id="J24"><rect x="2718.85" y="525.5" width="81.7"/><text x="2759.7" y="548.5">3 (14.0/8.0)</text></g>
<g id="J25"><ellipse cx="2893.6" cy="543.5" rx="75" ry="18"/><text x="2893.6" y="548.5">Standard-of-living</text></g>
<g id="J26"><rect x="2816.35" y="612.5" width="74.7"/><text x="2853.7" y="635.5">1 (5.0/3.0)</text></g>
<g id="J27"><ellipse cx="2953.7" cy="630.5" rx="45.5" ry="18"/><text x="2953.7" y="635.5">Wife_age</text></g>
<g id="J28"><rect x="2870.05" y="699.5" width="74.7"/><text x="2907.4" y="722.5">2 (2.0/1.0)</text></g>
<g id="J29"><rect x="2962.45" y="699.5" width="74.7"/><text x="2999.8" y="722.5">3 (5.0/4.0)</text></g>
<g id="K0"><ellipse cx="2620.6" cy="21.5" rx="30.5" ry="18"/><text x="2620.6" y="26.5">N144</text></g>
<g id="K1"><rect x="2583.25" y="90.5" width="74.7"/><text x="2620.6" y="113.5">1 (5.0/0.0)</text></g>
<g id="L0"><ellipse cx="2787.8" cy="21.5" rx="30.5" ry="18"/><text x="2787.8" y="26.5">N154</text></g>
<g id="L1"><ellipse cx="2787.6" cy="108.5" rx="75" ry="18"/><text x="2787.6" y="113.5">Standard-of-living</text></g>
<g id="L2"><ellipse cx="2787.6" cy="195.5" rx="45.5" ry="18"/><text x="2787.6" y="200.5">Wife_age</text></g>
<g id="L3"><rect x="2704.25" y="264.5" width="74.7"/><text x="2741.6" y="287.5">1 (3.0/1.0)</text></g>
<g id="L4"><rect x="2796.25" y="264.5" width="74.7"/><text x="2833.6" y="287.5">1 (3.0/0.0)</text></g>
<g id="M0"><ellipse cx="2918" cy="21.5" rx="30.5" ry="18"/><text x="2918" y="26.5">N160</text></g>
<g id="M1"><rect x="2880.15" y="90.5" width="74.7"/><text x="2917.5" y="113.5">3 (5.0/6.0)</text></g>
<g id="N0"><ellipse cx="3009.7" cy="21.5" rx="30.5" ry="18"/><text x="3009.7" y="26.5">N163</text></g>
<g id="N1"><rect x="2972.15" y="90.5" width="74.7"/><text x="3009.5" y="113.5">1 (3.0/0.0)</text></g>
<g id="O0"><ellipse cx="3108.7" cy="21.5" rx="30.5" ry="18"/><text x="3108.7" y="26.5">N156</text></g>
<g id="O1"><rect x="3064.35" y="90.5" width="88.7"/><text x="3108.7" y="113.5">2 (14.0/12.0)</text></g>
<g id="P0"><ellipse cx="3232.8" cy="21.5" rx="30.5" ry="18"/><text x="3232.8" y="26.5">N168</text></g>
<g id="P1"><ellipse cx="3232.5" cy="108.5" rx="62" ry="18"/><text x="3232.5" y="113.5">Wife_working</text></g>
<g id="P2"><rect x="3195.45" y="177.5" width="74.7"/><text x="3232.8" y="200.5">1 (7.0/5.0)</text></g>
<g id="Q0"><ellipse cx="3358.9" cy="21.5" rx="30.5" ry="18"/><text x="3358.9" y="26.5">N165</text></g>
<g id="Q1"><ellipse cx="3359" cy="108.5" rx="45.5" ry="18"/><text x="3359" y="113.5">Wife_age</text></g>
<g id="Q2"><rect x="3304.35" y="177.5" width="74.7"/><text x="3341.7" y="200.5">3 (2.0/1.0)</text></g>
<g id="Q3"><rect x="3396.35" y="177.5" width="74.7"/><text x="3433.7" y="200.5">1 (2.0/1.0)</text></g>
<g id="R0"><ellipse cx="3458.9" cy="21.5" rx="30.5" ry="18"/><text x="3458.9" y="26.5">N172</text></g>
<g id="R1"><rect x="3421.35" y="90.5" width="74.7"/><text x="3458.7" y="113.5">3 (3.0/1.0)</text></g>
<g id="S0"><ellipse cx="3558.8" cy="21.5" rx="30.5" ry="18"/><text x="3558.8" y="26.5">N136</text></g>
<g id="S1"><ellipse cx="3558.9" cy="108.5" rx="45.5" ry="18"/><text x="3558.9" y="113.5">Wife_age</text></g>
<g id="S2"><ellipse cx="3558.9" cy="195.5" rx="45.5" ry="18"/><text x="3558.9" y="200.5">Wife_age</text></g>
<g id="S3"><ellipse cx="3497.9" cy="282.5" rx="85" ry="18"/><text x="3497.9" y="287.5">Husband_occupation</text></g>
<g id="S4"><ellipse cx="3676.8" cy="282.5" rx="75" ry="18"/><text x="3676.8" y="287.5">Standard-of-living</text></g>
<g id="S5"><rect x="3385.65" y="351.5" width="74.7"/><text x="3423" y="374.5">1 (8.0/7.0)</text></g>
<g id="S6"><rect x="3478.05" y="351.5" width="81.7"/><text x="3518.9" y="374.5">3 (10.0/2.0)</text></g>
<g id="S7"><rect x="3618.15" y="351.5" width="74.7"/><text x="3655.5" y="374.5">2 (4.0/0.0)</text></g>
<g id="S8"><ellipse cx="3796.3" cy="369.5" rx="85" ry="18"/><text x="3796.3" y="374.5">Husband_occupation</text></g>
<g id="S9"><ellipse cx="3795.7" cy="456.5" rx="42" ry="18"/><text x="3795.7" y="461.5">Children</text></g>
<g id="S10"><ellipse cx="3725.5" cy="543.5" rx="45.5" ry="18"/><text x="3725.5" y="548.5">Wife_age</text></g>
<g id="S11"><rect x="3787.45" y="525.5" width="74.7"/><text x="3824.8" y="548.5">1 (2.0/2.0)</text></g>
<g id="S12"><ellipse cx="3619.3" cy="630.5" rx="85" ry="18"/><text x="3619.3" y="635.5">Husband_occupation</text></g>
<g id="S13"><rect x="3722.65" y="612.5" width="74.7"/><text x="3760" y="635.5">2 (9.0/5.0)</text></g>
<g id="S14"><rect x="3536.35" y="699.5" width="74.7"/><text x="3573.7" y="722.5">1 (2.0/1.0)</text></g>
<g id="S15"><rect x="3628.35" y="699.5" width="74.7"/><text x="3665.7" y="722.5">2 (2.0/2.0)</text></g>
<g id="T0"><ellipse cx="3836.9" cy="21.5" rx="30.5" ry="18"/><text x="3836.9" y="26.5">N199</text></g>
<g id="T1"><ellipse cx="3836.7" cy="108.5" rx="62" ry="18"/><text x="3836.7" y="113.5">Wife_working</text></g>
<g id="T2"><rect x="3734.55" y="177.5" width="74.7"/><text x="3771.9" y="200.5">3 (7.0/1.0)</text></g>
<g id="T3"><ellipse cx="3871.7" cy="195.5" rx="45.5" ry="18"/><text x="3871.7" y="200.5">Wife_age</text></g>
<g id="T4"><rect x="3769.65" y="264.5" width="74.7"/><text x="3807" y="287.5">2 (2.0/1.0)</text></g>
<g id="T5"><rect x="3861.35" y="264.5" width="74.7"/><text x="3898.7" y="287.5">3 (3.0/1.0)</text></g>
<g id="U0"><ellipse cx="3953.8" cy="21.5" rx="30.5" ry="18"/><text x="3953.8" y="26.5">N219</text></g>
<g id="U1"><rect x="3916.25" y="90.5" width="74.7"/><text x="3953.6" y="113.5">1 (2.0/3.0)</text></g>
<g id="V0"><ellipse cx="4052.7" cy="21.5" rx="30.5" ry="18"/><text x="4052.7" y="26.5">N214</text></g>
<g id="V1"><rect x="4008.15" y="90.5" width="88.7"/><text x="4052.5" y="113.5">2 (44.0/38.0)</text></g>
<g id="W0"><ellipse cx="4199.8" cy="21.5" rx="30.5" ry="18"/><text x="4199.8" y="26.5">N241</text></g>
<g id="W1"><ellipse cx="4199.8" cy="108.5" rx="85" ry="18"/><text x="4199.8" y="113.5">Husband_occupation</text></g>
<g id="W2"><ellipse cx="4085" cy="195.5" rx="60.5" ry="18"/><text x="4085" y="200.5">Wife_religion</text></g>
<g id="W3"><rect x="4162.05" y="177.5" width="74.7"/><text x="4199.4" y="200.5">1 (2.0/2.0)</text></g>
<g id="W4"><rect x="3968.15" y="264.5" width="81.7"/><text x="4009" y="287.5">2 (10.0/0.0)</text></g>
<g id="W5"><ellipse cx="4142.9" cy="282.5" rx="75" ry="18"/><text x="4142.9" y="287.5">Standard-of-living</text></g>
<g id="W6"><rect x="4033.45" y="351.5" width="74.7"/><text x="4070.8" y="374.5">2 (4.0/0.0)</text></g>
<g id="W7"><rect x="4126.15" y="351.5" width="81.7"/><text x="4167" y="374.5">2 (13.0/5.0)</text></g>
<g id="X0"><ellipse cx="4354" cy="21.5" rx="30.5" ry="18"/><text x="4354" y="26.5">N135</text></g>
<g id="X1"><rect x="4310.05" y="90.5" width="88.7"/><text x="4354.4" y="113.5">1 (76.0/14.0)</text></g>
<g id="Y0"><ellipse cx="4462.5" cy="21.5" rx="30.5" ry="18"/><text x="4462.5" y="26.5">N255</text></g>
<g id="Y1"><ellipse cx="4462.3" cy="108.5" rx="42" ry="18"/><text x="4462.3" y="113.5">Children</text></g>
<g id="Y2"><rect x="4409.95" y="177.5" width="81.7"/><text x="4450.8" y="200.5">1 (16.0/0.0)</text></g>
<g id="Y3"><ellipse cx="4577.3" cy="195.5" rx="67.5" ry="18"/><text x="4577.3" y="200.5">Wife_education</text></g>
<g id="Y4"><ellipse cx="4487.7" cy="282.5" rx="81" ry="18"/><text x="4487.7" y="287.5">Husband_education</text></g>
<g id="Y5"><ellipse cx="4636.9" cy="282.5" rx="42" ry="18"/><text x="4636.9" y="287.5">Children</text></g>
<g id="Y6"><ellipse cx="4316" cy="369.5" rx="81" ry="18"/><text x="4316" y="374.5">Husband_education</text></g>
<g id="Y7"><ellipse cx="4487.7" cy="369.5" rx="62" ry="18"/><text x="4487.7" y="374.5">Wife_working</text></g>
<g id="Y8"><rect x="4180.55" y="438.5" width="74.7"/><text x="4217.9" y="461.5">1 (4.0/0.0)</text></g>
<g id="Y9"><ellipse cx="4317.7" cy="456.5" rx="45.5" ry="18"/><text x="4317.7" y="461.5">Wife_age</text></g>
<g id="Y10"><ellipse cx="4264.8" cy="543.5" rx="45.5" ry="18"/><text x="4264.8" y="548.5">Wife_age</text></g>
<g id="Y11"><rect x="4327.45" y="525.5" width="74.7"/><text x="4364.8" y="548.5">2 (6.0/1.0)</text></g>
<g id="Y12"><rect x="4181.45" y="612.5" width="74.7"/><text x="4218.8" y="635.5">1 (3.0/2.0)</text></g>
<g id="Y13"><rect x="4273.15" y="612.5" width="74.7"/><text x="4310.5" y="635.5">3 (3.0/2.0)</text></g>
<g id="Y14"><rect x="4380.95" y="438.5" width="74.7"/><text x="4418.3" y="461.5">1 (2.0/3.0)</text></g>
<g id="Y15"><rect x="4474.15" y="438.5" width="81.7"/><text x="4515" y="461.5">1 (17.0/4.0)</text></g>
<g id="Y16"><ellipse cx="4636.5" cy="369.5" rx="45.5" ry="18"/><text x="4636.5" y="374.5">Wife_age</text></g>
<g id="Y17"><rect x="4699.95" y="351.5" width="74.7"/><text x="4737.3" y="374.5">3 (3.0/0.0)</text></g>
<g id="Y18"><ellipse cx="4636.7" cy="456.5" rx="62" ry="18"/><text x="4636.7" y="461.5">Wife_working</text></g>
<g id="Y19"><rect x="4717.25" y="438.5" width="74.7"/><text x="4754.6" y="461.5">1 (5.0/1.0)</text></g>
<g id="Y20"><rect x="4468.35" y="525.5" width="81.7"/><text x="4509.2" y="548.5">2 (13.0/4.0)</text></g>
<g id="Y21"><ellipse cx="4653.8" cy="543.5" rx="85" ry="18"/><text x="4653.8" y="548.5">Husband_occupation</text></g>
<g id="Y22"><ellipse cx="4621.2" cy="630.5" rx="42" ry="18"/><text x="4621.2" y="635.5">Children</text></g>
<g id="Y23"><ellipse cx="4733.5" cy="630.5" rx="45.5" ry="18"/><text x="4733.5" y="635.5">Wife_age</text></g>
<g id="Y24"><ellipse cx="4475.8" cy="717.5" rx="75" ry="18"/><text x="4475.8" y="722.5">Standard-of-living</text></g>
<g id="Y25"><ellipse cx="4621.5" cy="717.5" rx="45.5" ry="18"/><text x="4621.5" y="722.5">Wife_age</text></g>
<g id="Y26"><rect x="4696.15" y="699.5" width="74.7"/><text x="4733.5" y="722.5">3 (3.0/0.0)</text></g>
<g id="Y27"><ellipse cx="4839.2" cy="717.5" rx="42" ry="18"/><text x="4839.2" y="722.5">Children</text></g>
<g id="Y28"><rect x="4337.95" y="786.5" width="74.7"/><text x="4375.3" y="809.5">3 (2.0/1.0)</text></g>
<g id="Y29"><ellipse cx="4475.2" cy="804.5" rx="45.5" ry="18"/><text x="4475.2" y="809.5">Wife_age</text></g>
<g id="Y30"><ellipse cx="4615.6" cy="804.5" rx="75" ry="18"/><text x="4615.6" y="809.5">Standard-of-living</text></g>
<g id="Y31"><rect x="4709.35" y="786.5" width="74.7"/><text x="4746.7" y="809.5">1 (2.0/1.0)</text></g>
<g id="Y32"><rect x="4801.45" y="786.5" width="74.7"/><text x="4838.8" y="809.5">1 (5.0/4.0)</text></g>
<g id="Y33"><rect x="4893.15" y="786.5" width="74.7"/><text x="4930.5" y="809.5">2 (3.0/2.0)</text></g>
<g id="Y34"><rect x="4566.15" y="873.5" width="74.7"/><text x="4603.5" y="896.5">2 (2.0/1.0)</text></g>
<g id="Y35"><rect x="4658.85" y="873.5" width="74.7"/><text x="4696.2" y="896.5">2 (3.0/0.0)</text></g>
<g id="Y36"><ellipse cx="4398" cy="891.5" rx="45.5" ry="18"/><text x="4398" y="896.5">Wife_age</text></g>
<g id="Y37"><rect x="4461.65" y="873.5" width="74.7"/><text x="4499" y="896.5">1 (3.0/2.0)</text></g>
<g id="Y38"><ellipse cx="4314.6" cy="978.5" rx="60.5" ry="18"/><text x="4314.6" y="983.5">Wife_religion</text></g>
<g id="Y39"><rect x="4393.25" y="960.5" width="74.7"/><text x="4430.6" y="983.5">2 (9.0/3.0)</text></g>
<g id="Y40"><rect x="4248.65" y="1047.5" width="74.7"/><text x="4286" y="1070.5">2 (2.0/1.0)</text></g>
<g id="Y41"><ellipse cx="4387" cy="1065.5" rx="45.5" ry="18"/><text x="4387" y="1070.5">Wife_age</text></g>
<g id="Y42"><rect x="4304.15" y="1134.5" width="74.7"/><text x="4341.5" y="1157.5">1 (1.0/2.0)</text></g>
<g id="Y43"><rect x="4396.15" y="1134.5" width="74.7"/><text x="4433.5" y="1157.5">3 (2.0/1.0)</text></g>
</svg>
